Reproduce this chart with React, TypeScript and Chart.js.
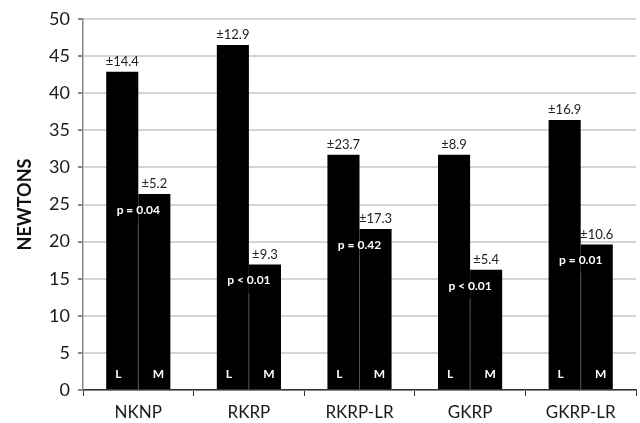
import React, { useEffect, useRef } from "react";
import { Chart, registerables } from "chart.js";

Chart.register(...registerables);

const categories = ["NKNP", "RKRP", "RKRP-LR", "GKRP", "GKRP-LR"];
const lateralValues = [42.9, 46.5, 31.7, 31.7, 36.4];
const medialValues = [26.4, 16.9, 21.7, 16.2, 19.6];
const lateralErrors = ["±14.4", "±12.9", "±23.7", "±8.9", "±16.9"];
const medialErrors = ["±5.2", "±9.3", "±17.3", "±5.4", "±10.6"];
const pLabels = ["p = 0.04", "p < 0.01", "p = 0.42", "p < 0.01", "p = 0.01"];
const yTicks = [0, 5, 10, 15, 20, 25, 30, 35, 40, 45, 50];

const FONT = "Lato, 'Open Sans', sans-serif";

const annotate = {
  id: "annotate",
  afterDatasetsDraw(chart: any) {
    const ctx = chart.ctx;
    const mL = chart.getDatasetMeta(0).data;
    const mM = chart.getDatasetMeta(1).data;
    const bottom = chart.chartArea.bottom;
    ctx.save();
    ctx.textAlign = "center";
    ctx.textBaseline = "middle";
    for (let i = 0; i < categories.length; i++) {
      const l = mL[i];
      const m = mM[i];
      // error labels
      ctx.fillStyle = "#222";
      ctx.font = `13px ${FONT}`;
      ctx.fillText(lateralErrors[i], l.x, l.y - 10);
      ctx.fillText(medialErrors[i], m.x, m.y - 10);
      // p label
      const midX = (l.x + m.x) / 2;
      const py = m.y + 16;
      ctx.fillStyle = "#fff";
      ctx.font = `bold 12px ${FONT}`;
      ctx.fillText(pLabels[i], midX, py);
      // divider
      const divX = l.x + l.width / 2;
      ctx.strokeStyle = "#505050";
      ctx.lineWidth = 1;
      ctx.beginPath();
      ctx.moveTo(divX, py + 13);
      ctx.lineTo(divX, bottom);
      ctx.stroke();
      // L / M letters
      ctx.fillStyle = "#fff";
      ctx.font = `bold 12px ${FONT}`;
      ctx.fillText("L", l.x - 4, bottom - 16);
      ctx.fillText("M", m.x + 4, bottom - 16);
    }
    ctx.restore();
  },
};

export default function App() {
  const ref = useRef<HTMLCanvasElement | null>(null);
  useEffect(() => {
    if (!ref.current) return;
    const chart = new Chart(ref.current, {
      type: "bar",
      data: {
        labels: categories,
        datasets: [
          { label: "L", data: lateralValues, backgroundColor: "#000", borderWidth: 0 },
          { label: "M", data: medialValues, backgroundColor: "#000", borderWidth: 0 },
        ],
      },
      options: {
        responsive: false,
        animation: false,
        layout: { padding: { top: 19, right: 4, left: 0, bottom: 0 } },
        plugins: { legend: { display: false }, tooltip: { enabled: false } },
        datasets: { bar: { categoryPercentage: 0.58, barPercentage: 1.0 } },
        scales: {
          x: {
            grid: { offset: true, drawOnChartArea: false, tickLength: 6, color: "#333", lineWidth: 1 },
            border: { color: "#333", width: 1.5 },
            ticks: { color: "#1a1a1a", font: { family: FONT, size: 17 }, padding: 6, maxRotation: 0 },
            afterFit: (s: any) => { s.height = 33; },
          },
          y: {
            min: 0,
            max: 50,
            afterBuildTicks: (s: any) => { s.ticks = yTicks.map((v) => ({ value: v })); },
            grid: { color: "#d4d4d4", lineWidth: 2, tickLength: 5, tickColor: "#888" },
            border: { color: "#888", width: 1.5 },
            ticks: { color: "#1a1a1a", font: { family: FONT, size: 18 }, padding: 8 },
            title: { display: true, text: "NEWTONS", color: "#111", font: { family: FONT, size: 18, weight: "bold" }, padding: { top: 14, bottom: 0 } },
            afterFit: (s: any) => { s.width = 83; },
          },
        },
      },
      plugins: [annotate],
    });
    return () => chart.destroy();
  }, []);
  return (
    <div style={{ position: "fixed", left: 0, top: 0, width: 640, height: 423, background: "#fff" }}>
      <canvas ref={ref} width={640} height={423} />
    </div>
  );
}
